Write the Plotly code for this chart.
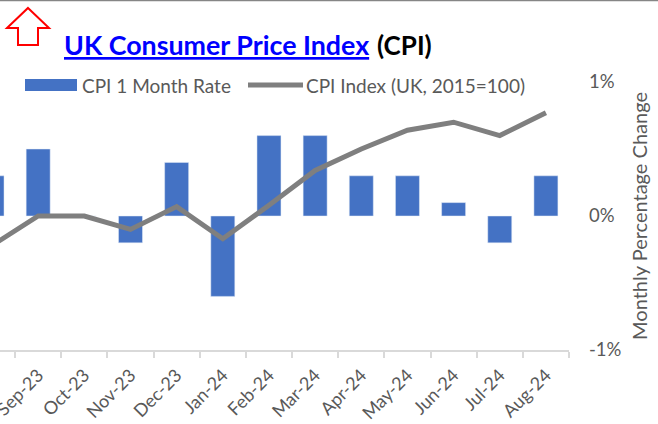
import plotly.graph_objects as go

months = ["Aug-23","Sep-23","Oct-23","Nov-23","Dec-23","Jan-24","Feb-24","Mar-24","Apr-24","May-24","Jun-24","Jul-24","Aug-24"]
rate = [0.3,0.5,0.0,-0.2,0.4,-0.6,0.6,0.6,0.3,0.3,0.1,-0.2,0.3]
index_line = [-0.22,0.0,0.0,-0.1,0.07,-0.17,0.08,0.34,0.5,0.64,0.7,0.6,0.77]
y_ticks = [-1,0,1]
y_labels = ["-1%","0%","1%"]
W,H = 658,424
L,R,T,B = 0,89,82,74
FONT = "Lato, Carlito, sans-serif"
GREY = "#595959"

fig = go.Figure()
fig.add_bar(x=months,y=rate,name="CPI 1 Month Rate",marker_color="#4472c4",showlegend=False)
fig.add_scatter(x=months,y=index_line,name="CPI Index (UK, 2015=100)",mode="lines",
                line=dict(color="#7f7f7f",width=5),showlegend=False)

def px(x): return (x-L)/(W-L-R)
def py(y): return (H-B-y)/(H-T-B)
shapes = [
 dict(type="line",xref="paper",yref="paper",x0=0,x1=px(W),y0=py(0.5),y1=py(0.5),line=dict(color="#868686",width=1.5)),
 dict(type="path",xref="paper",yref="paper",line=dict(color="#ff0000",width=2),fillcolor="white",
      path="M %f %f L %f %f L %f %f L %f %f L %f %f L %f %f L %f %f Z"%tuple(
        v for p in [(28,8),(49,28),(38,28),(38,45),(18,45),(18,28),(7,28)] for v in (px(p[0]),py(p[1])))),
 dict(type="rect",xref="paper",yref="paper",x0=px(25),x1=px(77),y0=py(91),y1=py(79),line_width=0,fillcolor="#4472c4"),
 dict(type="line",xref="paper",yref="paper",x0=px(248),x1=px(303),y0=py(85),y1=py(85),line=dict(color="#7f7f7f",width=5)),
]
def note(text,x,y,size,color=GREY,**k):
    return dict(text=text,xref="paper",yref="paper",x=px(x),y=py(y),xanchor="left",yanchor="middle",
                showarrow=False,font=dict(family=FONT,size=size,color=color),**k)
anns = [
 note("<b><u>UK Consumer Price Index</u></b>",62,45,26.8,"#0000ff"),
 note("<b>(CPI)</b>",375,45,26,"#000000"),
 note("CPI 1 Month Rate",80,85,19),
 note("CPI Index (UK, 2015=100)",304,85,19),
]
fig.update_layout(width=W,height=H,margin=dict(l=L,r=R,t=T,b=B),paper_bgcolor="white",plot_bgcolor="white",
    bargap=0.48,shapes=shapes,annotations=anns,showlegend=False,font=dict(family=FONT,color=GREY))
fig.update_xaxes(type="category",range=[0.173,12.5],tickson="boundaries",ticks="outside",ticklen=6,tickwidth=1.5,
    tickcolor="#d9d9d9",showline=True,linecolor="#d9d9d9",linewidth=1.5,showgrid=False,zeroline=False,automargin=False,
    tickangle=-45,ticklabelstandoff=6,tickfont=dict(size=18,color=GREY))
fig.update_yaxes(side="right",range=[-1,1],tickvals=y_ticks,ticktext=y_labels,ticks="",showgrid=False,zeroline=False,
    showline=False,automargin=False,ticklabelstandoff=19,tickfont=dict(size=18.5,color=GREY),
    title=dict(text="Monthly Percentage Change",font=dict(size=20,color=GREY),standoff=12))
fig.write_html("out.html",config=dict(displayModeBar=False),
    post_script="document.body.style.margin='0';document.body.style.overflow='hidden';")
